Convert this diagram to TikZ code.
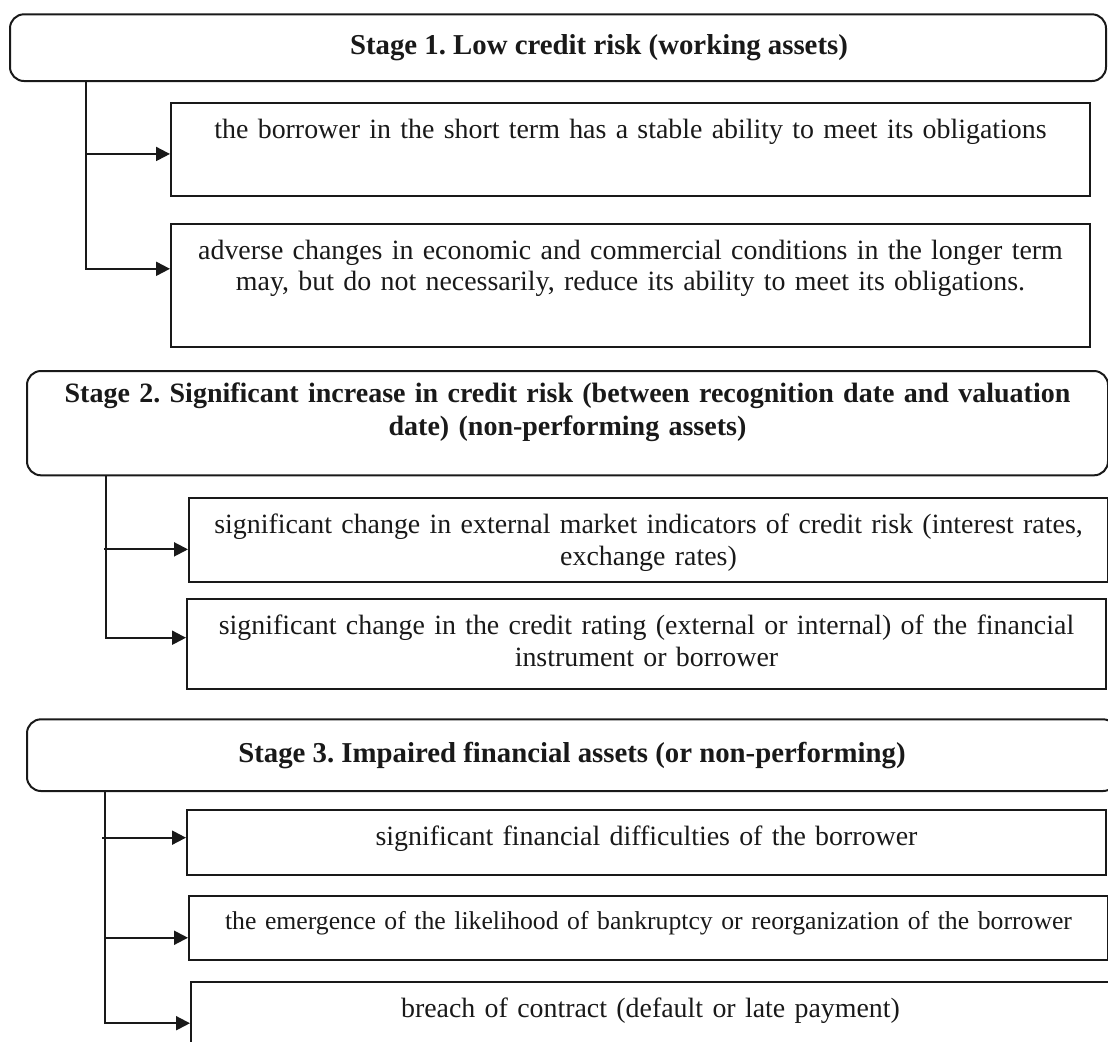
\documentclass[tikz,border=0pt]{standalone}
\usepackage{fontspec}
\setmainfont{Liberation Serif}
\frenchspacing
\usetikzlibrary{positioning,arrows.meta}
\tikzset{
    stage/.style={draw, rounded corners=7pt, anchor=north west, inner sep=0pt, align=center, font=\fontsize{14.4pt}{16.5pt}\selectfont\bfseries},
    item/.style={draw, rectangle, anchor=north west, inner sep=0pt, text width=459.5pt, align=center, text height=17.75pt, font=\fontsize{13.95pt}{15.75pt}\selectfont},
    link/.style={-{Triangle[length=7pt, width=7pt]}, line width=1pt}
}

\begin{document}
\begin{tikzpicture}[x=0.5pt, y=-0.5pt, line width=1pt, color=black!90]
    \useasboundingbox (0,0) rectangle (1108,1041);
    \clip (0,0) rectangle (1108,1041);

    % Stage 1
    \node[stage, minimum width=548pt, minimum height=33.35pt] (s1) at (9,13.3) {\hspace*{41pt}Stage 1. Low credit risk (working assets)};
    \node[item, text depth=29pt] (b1a) at (170,101.5) {the borrower in the short term has a stable ability to meet its obligations};
    \node[item, text depth=43.75pt] (b1b) at (170,222.5) {adverse changes in economic and commercial conditions in the longer term\\ may, but do not necessarily, reduce its ability to meet its obligations.};

    % Stage 2
    \node[stage, text width=540.5pt, text height=15.5pt, text depth=36.65pt, font=\fontsize{14pt}{16.5pt}\selectfont\bfseries] (s2) at (26,370) {Stage 2. Significant increase in credit risk (between recognition date and valuation\\ date) (non-performing assets)};
    \node[item, text depth=24pt] (b2a) at (188,497.3) {significant change in external market indicators of credit risk (interest rates,\\ exchange rates)};
    \node[item, text depth=27.25pt] (b2b) at (186,598.3) {significant change in the credit rating (external or internal) of the financial\\ instrument or borrower};

    % Stage 3
    \node[stage, minimum width=545pt, minimum height=35.85pt] (s3) at (26,718.3) {Stage 3. Impaired financial assets (or non-performing)};
    \node[item, text depth=14.6pt] (b3a) at (186,809.3) {significant financial difficulties of the borrower};
    \node[item, text height=16.65pt, text depth=15.5pt, font=\fontsize{12.85pt}{15pt}\selectfont] (b3b) at (188,895) {the emergence of the likelihood of bankruptcy or reorganization of the borrower};
    \node[item, text depth=22.25pt] (b3c) at (190,981) {breach of contract (default or late payment)};

    % Trunks and arrows
    \coordinate (t1) at ([xshift=38.5pt]s1.south west);
    \coordinate (t2) at ([xshift=40pt]s2.south west);
    \coordinate (t3) at ([xshift=39.5pt]s3.south west);

    \coordinate (a1a) at ([yshift=-2.35pt]b1a.west);
    \coordinate (a1b) at ([yshift=8.1pt]b1b.west);
    \draw[link] (a1a -| t1) -- (a1a);
    \draw[link] (t1) |- (a1b);

    \coordinate (a2a) at ([yshift=-4.65pt]b2a.west);
    \coordinate (a2b) at ([yshift=3.3pt]b2b.west);
    \draw[link] ([xshift=-1pt]a2a -| t2) -- (a2a);
    \draw[link] (t2) |- (a2b);

    \coordinate (a3a) at ([yshift=2.5pt]b3a.west);
    \coordinate (a3b) at ([yshift=-4.8pt]b3b.west);
    \coordinate (a3c) at ([yshift=-0.6pt]b3c.west);
    \draw[link] ([xshift=-1.5pt]a3a -| t3) -- (a3a);
    \draw[link] (a3b -| t3) -- (a3b);
    \draw[link] (t3) |- (a3c);
\end{tikzpicture}
\end{document}
